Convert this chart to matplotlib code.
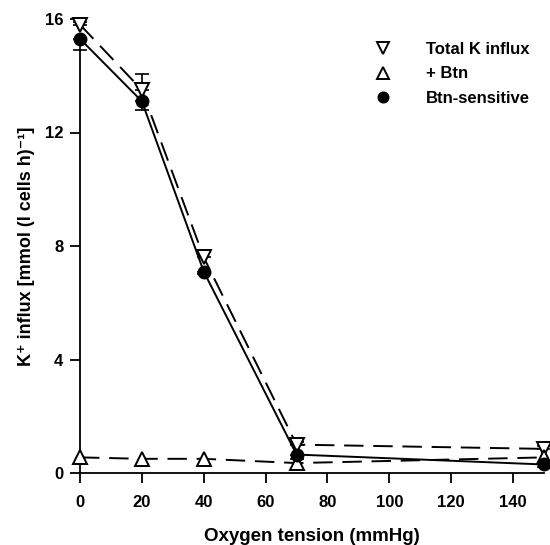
import matplotlib
matplotlib.use("Agg")
import matplotlib.pyplot as plt

oxygen = [0, 20, 40, 70, 150]
total_k = [15.8, 13.5, 7.6, 1.0, 0.85]
total_k_err_up = [0.1, 0.55, 0.2, 0.1, 0.1]
plus_btn = [0.55, 0.5, 0.5, 0.35, 0.55]
btn_sens = [15.3, 13.1, 7.1, 0.65, 0.3]
btn_sens_err_dn = [0.4, 0.3, 0.1, 0.15, 0.1]
xticks = [0, 20, 40, 60, 80, 100, 120, 140]
yticks = [0, 4, 8, 12, 16]

plt.rcParams['font.family'] = ['Liberation Sans', 'DejaVu Sans']
plt.rcParams['font.weight'] = 'bold'

fig = plt.figure(figsize=(5.5, 5.45), dpi=100)
ax = fig.add_axes([80/550, 72/545, 464/550, 454/545])
ax.set_xlim(0, 150)
ax.set_ylim(0, 16)

lw = 1.4
dash = (0, (10, 5))
ax.errorbar(oxygen, total_k, yerr=[[0]*5, total_k_err_up], fmt='none', ecolor='black',
            elinewidth=1.2, capsize=5, capthick=1.2, zorder=3, clip_on=False)
ax.errorbar(oxygen, btn_sens, yerr=[btn_sens_err_dn, [0]*5], fmt='none', ecolor='black',
            elinewidth=1.2, capsize=5, capthick=1.2, zorder=3, clip_on=False)

ax.plot(oxygen, total_k, linestyle=dash, color='black', lw=lw, marker='v',
        ms=10, mfc='white', mec='black', mew=1.4, label='Total K influx', zorder=4, clip_on=False)
ax.plot(oxygen, plus_btn, linestyle=dash, color='black', lw=lw, marker='^',
        ms=10, mfc='white', mec='black', mew=1.4, label='+ Btn', zorder=4, clip_on=False)
ax.plot(oxygen, btn_sens, linestyle='-', color='black', lw=lw, marker='o',
        ms=9, mfc='black', mec='black', label='Btn-sensitive', zorder=5, clip_on=False)

for s in ['top', 'right']:
    ax.spines[s].set_visible(False)
ax.spines['left'].set_bounds(0, 14.9)
ax.spines['left'].set_linewidth(1.3)
ax.spines['bottom'].set_linewidth(1.3)

ax.set_xticks(xticks)
ax.set_yticks(yticks)
ax.tick_params(axis='both', direction='out', length=7, width=1.3, labelsize=12)
ax.tick_params(axis='x', pad=9)
ax.tick_params(axis='y', pad=5)
for lab in ax.get_xticklabels() + ax.get_yticklabels():
    lab.set_fontweight('bold')

ax.set_xlabel('Oxygen tension (mmHg)', fontsize=13.5, fontweight='bold', labelpad=13)
ax.set_ylabel('K\u207a influx [mmol (l cells h)\u207b\u00b9]', fontsize=13, fontweight='bold', labelpad=7)

leg = ax.legend(loc='upper left', bbox_to_anchor=(0.62, 0.982), frameon=False,
                prop={'size': 12, 'weight': 'bold'}, markerscale=0.85,
                handlelength=0.0, handletextpad=2.6, labelspacing=0.55)
for h in leg.legend_handles:
    h.set_linestyle('none')

fig.savefig('out.png', dpi=100)
